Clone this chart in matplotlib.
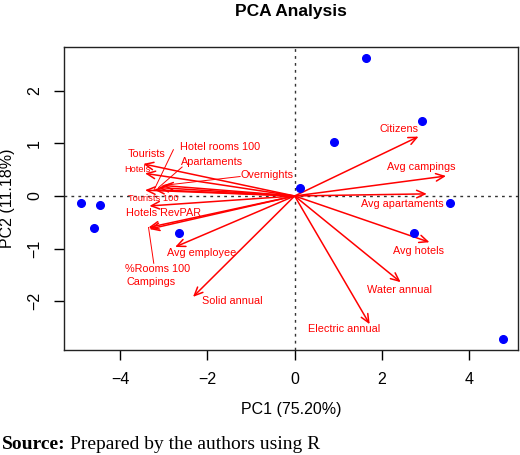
import matplotlib
matplotlib.use("Agg")
import matplotlib.pyplot as plt

plt.rcParams['font.family'] = ['Liberation Sans', 'DejaVu Sans']

# individuals (scores)
pc1_scores = [-4.90, -4.46, -4.60, -2.64, 0.13, 1.63, 2.92, 0.90, 3.57, 2.74, 4.77]
pc2_scores = [-0.13, -0.17, -0.60, -0.71, 0.15, 2.63, 1.43, 1.02, -0.14, -0.71, -2.72]

# variables (loadings, scaled)
var_names = ["Tourists", "Hotels", "Tourists 100", "Hotel rooms 100", "Apartaments",
             "Overnights", "Hotels RevPAR", "%Rooms 100", "Campings", "Avg employee",
             "Solid annual", "Citizens", "Avg campings", "Avg apartaments", "Avg hotels",
             "Water annual", "Electric annual"]
var_pc1 = [-3.47, -3.43, -3.43, -3.22, -3.12, -3.02, -3.33, -3.35, -3.33, -2.74,
           -2.33, 2.84, 3.47, 3.03, 3.09, 2.43, 1.72]
var_pc2 = [0.61, 0.43, 0.11, 0.12, 0.16, 0.20, -0.19, -0.60, -0.63, -0.97,
           -1.92, 1.13, 0.38, 0.04, -0.88, -1.64, -2.44]

# label positions
lab_x = [-3.39, -3.60, -3.24, -1.71, -1.90, -0.64, -3.01, -3.15, -3.29, -2.13,
         -1.44, 2.40, 2.90, 2.46, 2.83, 2.40, 1.14]
lab_y = [0.79, 0.50, -0.05, 0.94, 0.65, 0.40, -0.32, -1.39, -1.64, -1.09,
         -2.00, 1.27, 0.56, -0.15, -1.05, -1.78, -2.53]
small_labels = ["Hotels", "Tourists 100"]
leaders = {"Hotel rooms 100": (-2.78, 0.88), "Apartaments": (-2.58, 0.55),
           "Overnights": (-1.25, 0.37), "%Rooms 100": (-3.23, -1.28)}

fig = plt.figure(figsize=(5.2, 4.55), dpi=100)
ax = fig.add_axes([0.1237, 0.2308, 0.8733, 0.6666])

ax.axhline(0, color='#333333', lw=1, ls=(0, (2, 3)))
ax.axvline(0, color='#333333', lw=1, ls=(0, (2, 3)))

for name, x, y, lx, ly in zip(var_names, var_pc1, var_pc2, lab_x, lab_y):
    ax.annotate('', xy=(x, y), xytext=(0, 0),
                arrowprops=dict(arrowstyle='->,head_length=0.6,head_width=0.27',
                                color='red', lw=1.1, shrinkA=0, shrinkB=0))
    fs = 6.7 if name in small_labels else 7.8
    ax.text(lx, ly, name, color='red', fontsize=fs, ha='center', va='center')
    if name in leaders:
        sx, sy = leaders[name]
        ax.plot([sx, x], [sy, y], color='red', lw=0.7)

ax.plot(pc1_scores, pc2_scores, 'o', color='blue', markersize=5.5, zorder=5)

ax.set_xlim(-5.28, 5.13)
ax.set_ylim(-2.93, 2.84)
ax.set_xticks([-4, -2, 0, 2, 4])
ax.set_yticks([-2, -1, 0, 1, 2])
ax.tick_params(direction='out', length=7, width=1, labelsize=11.5, pad=9)
for lbl in ax.get_yticklabels():
    lbl.set_rotation(90)
    lbl.set_va('center')
for sp in ax.spines.values():
    sp.set_linewidth(1)
    sp.set_color('#222222')

ax.set_xlabel("PC1 (75.20%)", fontsize=11.5, labelpad=11)
ax.set_ylabel("PC2 (11.18%)", fontsize=11.5)
ax.yaxis.set_label_coords(-0.1085, 0.5)
ax.set_title("PCA Analysis", fontsize=12.5, fontweight='bold', pad=22)

fig.text(0.003, 0.014, "Source:", fontsize=14, fontweight='bold',
         family='Liberation Serif', ha='left', va='baseline')
fig.text(0.1346, 0.014, "Prepared by the authors using R", fontsize=14,
         family='Liberation Serif', ha='left', va='baseline')

fig.savefig("out.png", dpi=100)
